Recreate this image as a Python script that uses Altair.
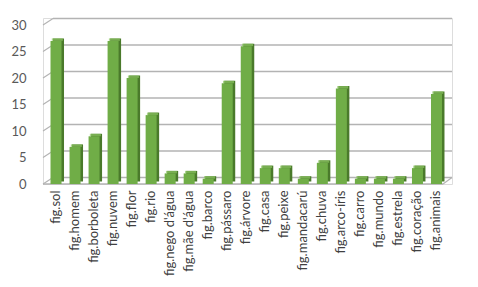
import altair as alt
import pandas as pd

categories = ["fig.sol", "fig.homem", "fig.borboleta", "fig.nuvem", "fig.flor", "fig.rio",
              "fig.nego d'água", "fig.mãe d'água", "fig.barco", "fig.pássaro", "fig.árvore",
              "fig.casa", "fig.peixe", "fig.mandacarú", "fig.chuva", "fig.arco-íris",
              "fig.carro", "fig.mundo", "fig.estrela", "fig.coração", "fig.animais"]
values = [27, 7, 9, 27, 20, 13, 2, 2, 1, 19, 26, 3, 3, 1, 4, 18, 1, 1, 1, 3, 17]
y_ticks = [0, 5, 10, 15, 20, 25, 30]

df = pd.DataFrame({"cat": categories, "v": values})
grid_df = pd.DataFrame({"g": y_ticks})
floor_df = pd.DataFrame({"g": [0]})

W, H = 409, 166
DEPTH = 6.5
FONT = "Lato"

yscale = alt.Scale(domain=[0, 30], range=[166, 7], nice=False, zero=True)
xscale = alt.Scale(range=[3.5, 403], paddingInner=0.4, paddingOuter=0.2)
yaxis = alt.Axis(values=y_ticks, grid=False, ticks=False, domain=False,
                 labelPadding=17, labelFont=FONT, labelFontSize=13,
                 labelColor="#595959", title=None)

# back wall gridlines (carries the y axis)
grid = alt.Chart(grid_df).mark_rule(color="#b3b3b3", strokeWidth=1.5, yOffset=-DEPTH).encode(
    y=alt.Y("g:Q", scale=yscale, axis=yaxis, title=None),
    x=alt.value(10), x2=alt.value(W),
)
# diagonal ticks on left side wall
diag = alt.Chart(grid_df).mark_rule(color="#b3b3b3", strokeWidth=1.2, y2Offset=-DEPTH).encode(
    y=alt.Y("g:Q", scale=yscale, axis=yaxis, title=None),
    y2="g:Q",
    x=alt.value(0), x2=alt.value(10),
)
# floor front edge and right edge
floor_front = alt.Chart(floor_df).mark_rule(color="#b3b3b3", strokeWidth=1.5).encode(
    y=alt.Y("g:Q", scale=yscale, axis=yaxis, title=None),
    x=alt.value(0), x2=alt.value(400),
)
floor_right = alt.Chart(floor_df).mark_rule(color="#b3b3b3", strokeWidth=1.2, y2Offset=-DEPTH).encode(
    y=alt.Y("g:Q", scale=yscale, axis=yaxis, title=None),
    y2="g:Q",
    x=alt.value(400), x2=alt.value(W),
)

base = alt.Chart(df)
xenc = alt.X("cat:N", sort=None, scale=xscale, title=None,
             axis=alt.Axis(labelAngle=-90, labelAlign="right", labelBaseline="middle",
                           labelPadding=6, ticks=False, domain=False,
                           labelFont=FONT, labelFontSize=13, labelColor="#404040"))
yenc = alt.Y("v:Q", scale=yscale, title=None, axis=yaxis)

side = base.mark_bar(size=11, color="#4a7a2b", xOffset=2.5, yOffset=-2.5).encode(x=xenc, y=yenc)
top = base.mark_tick(orient="horizontal", size=11, thickness=2.5, color="#8cc462",
                     xOffset=1.3, yOffset=-1.3).encode(x=xenc, y=yenc)
front = base.mark_bar(size=11, color="#70ad47").encode(x=xenc, y=yenc)

chart = alt.layer(grid, diag, floor_front, floor_right, side, top, front).properties(
    width=W, height=H,
    autosize=alt.AutoSizeParams(type="none"),
    padding={"left": 35, "top": 10, "right": 10, "bottom": 95},
).configure_view(stroke=None).configure(background="white")

chart.save("out.html", embed_options={"renderer": "svg", "actions": False})
